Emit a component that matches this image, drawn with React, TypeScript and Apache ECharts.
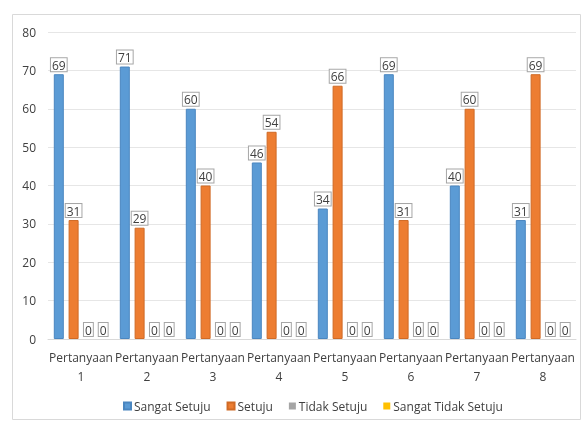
import React, { useEffect, useRef } from "react";
import * as echarts from "echarts";

const categories = ["Pertanyaan\n1", "Pertanyaan\n2", "Pertanyaan\n3", "Pertanyaan\n4", "Pertanyaan\n5", "Pertanyaan\n6", "Pertanyaan\n7", "Pertanyaan\n8"];
const sangatSetuju = [69, 71, 60, 46, 34, 69, 40, 31];
const setuju = [31, 29, 40, 54, 66, 31, 60, 69];
const tidakSetuju = [0, 0, 0, 0, 0, 0, 0, 0];
const sangatTidakSetuju = [0, 0, 0, 0, 0, 0, 0, 0];
const seriesNames = ["Sangat Setuju", "Setuju", "Tidak Setuju", "Sangat Tidak Setuju"];
const colors = ["#5B9BD5", "#ED7D31", "#A5A5A5", "#FFC000"];
const borders = ["#4A86C0", "#D06A25", "#8F8F8F", "#E0A800"];

export default function App() {
  const ref = useRef<HTMLDivElement>(null);
  useEffect(() => {
    if (!ref.current) return;
    const chart = echarts.init(ref.current, undefined, { renderer: "svg" });
    const data = [sangatSetuju, setuju, tidakSetuju, sangatTidakSetuju];
    chart.setOption({
      animation: false,
      textStyle: { fontFamily: "'Open Sans', 'DejaVu Sans', sans-serif" },
      graphic: [
        {
          type: "rect",
          shape: { x: 12.5, y: 14.5, width: 568, height: 405 },
          style: { fill: "none", stroke: "#D9D9D9", lineWidth: 1 },
          silent: true,
        },
      ],
      legend: {
        bottom: 8,
        left: 118,
        itemWidth: 7,
        itemHeight: 7,
        itemGap: 16,
        icon: "rect",
        textStyle: { fontSize: 12, color: "#404040", padding: [0, 0, 0, -2] },
        data: seriesNames,
      },
      grid: { left: 48, right: 8, top: 32, bottom: 86 },
      xAxis: {
        type: "category",
        data: categories,
        axisLine: { lineStyle: { color: "#D9D9D9" } },
        axisTick: { show: false },
        axisLabel: { fontSize: 12, color: "#404040", lineHeight: 19, margin: 9, interval: 0 },
      },
      yAxis: {
        type: "value",
        min: 0,
        max: 80,
        interval: 10,
        axisLine: { show: false },
        axisTick: { show: false },
        axisLabel: { fontSize: 12, color: "#404040", margin: 12 },
        splitLine: { lineStyle: { color: "#E6E6E6" } },
      },
      series: seriesNames.map((name, i) => ({
        name,
        type: "bar",
        data: data[i],
        barWidth: 10,
        barGap: "48%",
        itemStyle: { color: colors[i], borderColor: borders[i], borderWidth: i < 2 ? 1 : 0 },
        label: {
          show: true,
          position: "top",
          distance: 3,
          fontSize: 12,
          color: "#404040",
          backgroundColor: "#FFFFFF",
          borderColor: "#A6A6A6",
          borderWidth: 1,
          padding: [1, 1, 0, 1],
        },
      })),
    });
    return () => chart.dispose();
  }, []);
  return <div ref={ref} style={{ position: "fixed", left: 0, top: 0, width: 584, height: 425 }} />;
}
